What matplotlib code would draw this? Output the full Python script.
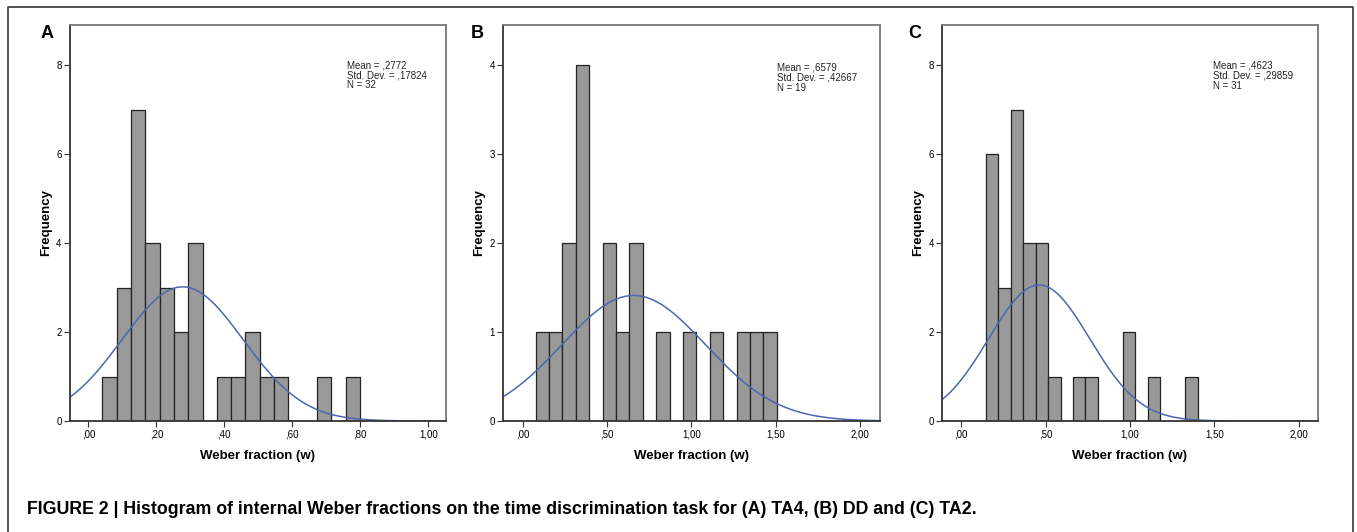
import numpy as np
import matplotlib
matplotlib.use("Agg")
from matplotlib import pyplot as plt

# Panel A (TA4)
a_counts = [1, 3, 7, 4, 3, 2, 4, 0, 1, 1, 2, 1, 1, 0, 0, 1, 0, 1]
a_start, a_width = 0.0412, 0.0421
a_mean, a_sd, a_n = 0.2772, 0.17824, 32
a_xticks = [0.0, 0.2, 0.4, 0.6, 0.8, 1.0]
a_xlabels = [",00", ",20", ",40", ",60", ",80", "1,00"]
a_yticks = [0, 2, 4, 6, 8]

# Panel B (DD)
b_counts = [1, 1, 2, 4, 0, 2, 1, 2, 0, 1, 0, 1, 0, 1, 0, 1, 1, 1]
b_start, b_width = 0.0769, 0.0794
b_mean, b_sd, b_n = 0.6579, 0.42667, 19
b_xticks = [0.0, 0.5, 1.0, 1.5, 2.0]
b_xlabels = [",00", ",50", "1,00", "1,50", "2,00"]
b_yticks = [0, 1, 2, 3, 4]

# Panel C (TA2)
c_counts = [6, 3, 7, 4, 4, 1, 0, 1, 1, 0, 0, 2, 0, 1, 0, 0, 1]
c_start, c_width = 0.146, 0.0738
c_mean, c_sd, c_n = 0.4623, 0.29859, 31
c_xticks = b_xticks
c_xlabels = b_xlabels
c_yticks = [0, 2, 4, 6, 8]

stats_a = ["Mean = ,2772", "Std. Dev. = ,17824", "N = 32"]
stats_b = ["Mean = ,6579", "Std. Dev. = ,42667", "N = 19"]
stats_c = ["Mean = ,4623", "Std. Dev. = ,29859", "N = 31"]

caption = "FIGURE 2 | Histogram of internal Weber fractions on the time discrimination task for (A) TA4, (B) DD and (C) TA2."

W, H = 1357, 532
plt.rcParams['font.family'] = ['Liberation Sans', 'DejaVu Sans']
fig = plt.figure(figsize=(W / 100, H / 100), dpi=100)


def fx(x):
    return x / W


def fy(y):
    return 1 - y / H


# outer frame (open at the bottom)
fig.add_artist(plt.Line2D([fx(8), fx(8), fx(1353), fx(1353)],
                          [0, fy(7), fy(7), 0], color="#444444", lw=1.3))

panels = [
    (70, 446, a_counts, a_start, a_width, a_mean, a_sd, a_n, (-0.054, 1.052), 8.9,
     a_xticks, a_xlabels, a_yticks, stats_a, 347, 65, "A", 47),
    (503.3, 880, b_counts, b_start, b_width, b_mean, b_sd, b_n, (-0.115, 2.118), 4.45,
     b_xticks, b_xlabels, b_yticks, stats_b, 777, 68, "B", 477),
    (942.3, 1317.7, c_counts, c_start, c_width, c_mean, c_sd, c_n, (-0.111, 2.111), 8.9,
     c_xticks, c_xlabels, c_yticks, stats_c, 1213, 66, "C", 915),
]

top, bottom = 25, 421
for (l, r, counts, start, width, mean, sd, n, xlim, ytop,
     xt, xl, yt, stats, sx, sy, letter, lx) in panels:
    ax = fig.add_axes([fx(l), fy(bottom), (r - l) / W, (bottom - top) / H])
    edges = start + width * np.arange(len(counts))
    for e, c in zip(edges, counts):
        if c > 0:
            ax.bar(e, c, width=width, align="edge", color="#999999",
                   edgecolor="#222222", linewidth=0.9)
    # fitted normal curve scaled to counts
    xs = np.linspace(xlim[0], xlim[1], 400)
    ys = n * width / (sd * np.sqrt(2 * np.pi)) * np.exp(-0.5 * ((xs - mean) / sd) ** 2)
    ax.plot(xs, ys, color="#4a68b0", lw=1.1)
    ax.set_xlim(xlim)
    ax.set_ylim(0, ytop)
    ax.set_xticks(xt)
    ax.set_xticklabels(xl)
    ax.set_yticks(yt)
    ax.tick_params(labelsize=7, length=4, width=0.8, color="#333333", pad=2)
    for s in ax.spines.values():
        s.set_color("#777777")
        s.set_linewidth(1.3)
    ax.spines['bottom'].set_color("#333333")
    ax.spines['left'].set_color("#333333")
    ax.set_xlabel("Weber fraction (w)", fontsize=9.5, fontweight="bold", labelpad=8)
    ax.set_ylabel("Frequency", fontsize=9.5, fontweight="bold", labelpad=3)
    for i, line in enumerate(stats):
        fig.text(fx(sx), fy(sy + 10 * i), line, fontsize=7, va="center", ha="left",
                 color="#222222")
    fig.text(fx(lx), fy(33), letter, fontsize=13, fontweight="bold",
             ha="center", va="center")

fig.text(fx(27), fy(510), caption, fontsize=12.8, fontweight="bold",
         ha="left", va="center")

fig.savefig("out.png", dpi=100)
